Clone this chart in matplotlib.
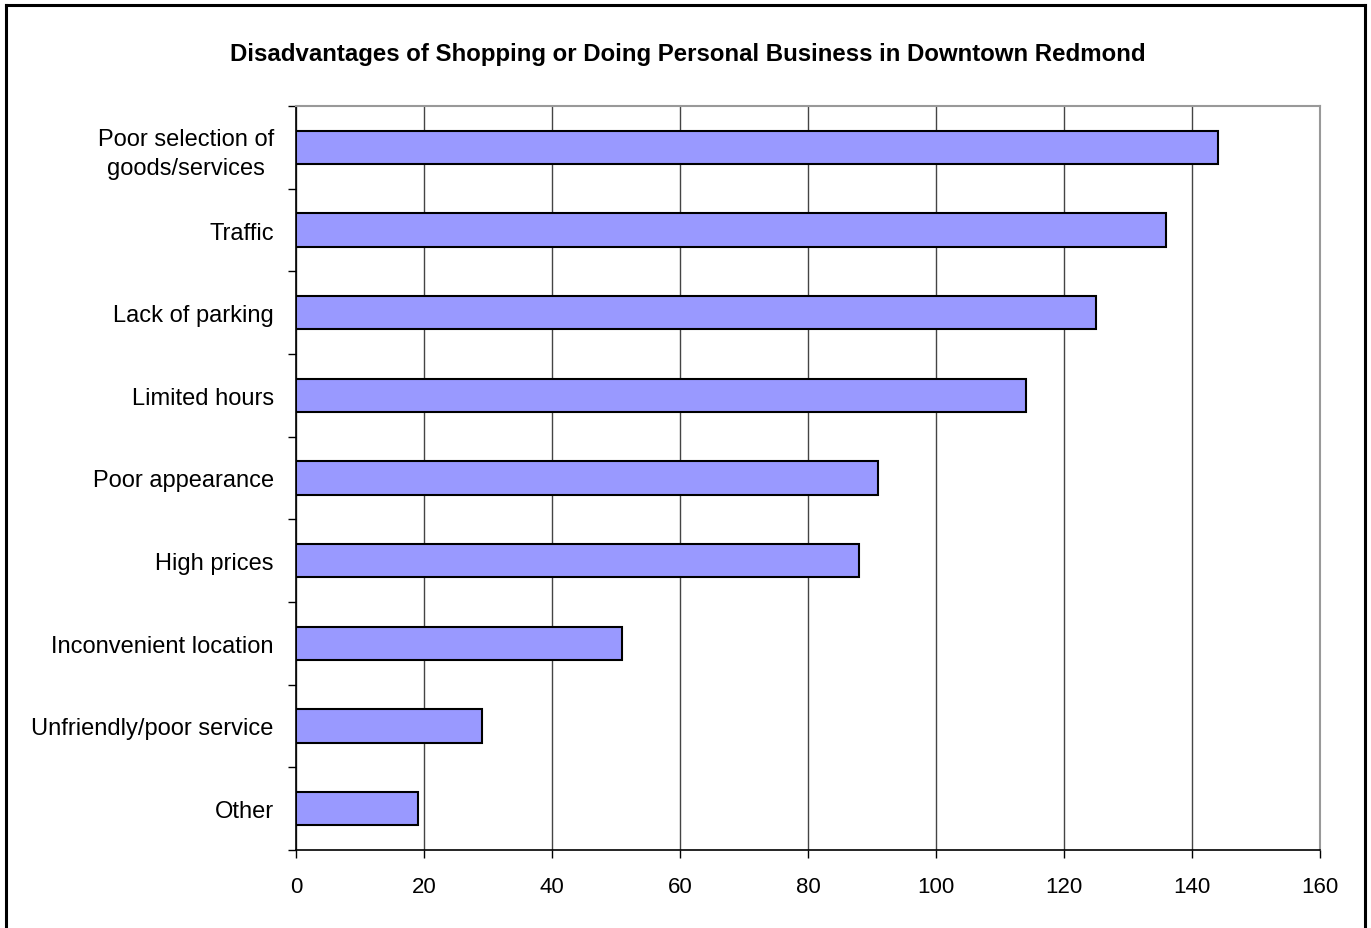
import matplotlib.pyplot as plt
from matplotlib.lines import Line2D

# Survey counts, top to bottom as shown in the chart
categories = ['Poor selection of\ngoods/services', 'Traffic', 'Lack of parking',
              'Limited hours', 'Poor appearance', 'High prices',
              'Inconvenient location', 'Unfriendly/poor service', 'Other']
counts = [144, 136, 125, 114, 91, 88, 51, 29, 19]
x_ticks = [0, 20, 40, 60, 80, 100, 120, 140, 160]

plt.rcParams['font.family'] = ['Liberation Sans', 'DejaVu Sans']

fig = plt.figure(figsize=(13.71, 9.29), dpi=100)
ax = fig.add_axes([296 / 1371, 1 - 851 / 929, (1320 - 296) / 1371, (851 - 107) / 929])

pos = list(range(len(categories)))[::-1]
ax.barh(pos, counts, height=0.4, color='#9999FF', edgecolor='black', linewidth=1.5, zorder=3)

ax.set_xlim(0, 160)
ax.set_ylim(-0.5, len(categories) - 0.5)
ax.set_xticks(x_ticks)
ax.xaxis.grid(True, color='#444444', linewidth=1.0, zorder=0)

# category labels at bar centres, tick marks at band edges
ax.set_yticks(pos)
ax.set_yticklabels(categories, fontsize=17, multialignment='center', linespacing=1.4)
ax.set_yticks([p - 0.5 for p in range(len(categories) + 1)], minor=True)
ax.tick_params(axis='y', which='major', length=0, pad=16)
ax.tick_params(axis='y', which='minor', length=5.5, width=1, direction='out')
ax.tick_params(axis='x', length=5.5, width=1, labelsize=16, pad=13)

for s in ['top', 'right']:
    ax.spines[s].set_color('#999999')
    ax.spines[s].set_linewidth(1.5)
for s in ['left', 'bottom']:
    ax.spines[s].set_color('black')
    ax.spines[s].set_linewidth(1.2)

fig.text(0.5015, 1 - 54 / 929, 'Disadvantages of Shopping or Doing Personal Business in Downtown Redmond',
         ha='center', va='center', fontsize=17.3, fontweight='bold')

# outer chart border (bottom runs off the image)
bx0, bx1, by1 = 6 / 1371, 1365 / 1371, 1 - 6 / 929
for xs, ys in [([bx0, bx0], [-0.1, by1]), ([bx0, bx1], [by1, by1]), ([bx1, bx1], [by1, -0.1])]:
    fig.add_artist(Line2D(xs, ys, color='black', linewidth=2.2, transform=fig.transFigure))

fig.savefig('out.png', dpi=100)
